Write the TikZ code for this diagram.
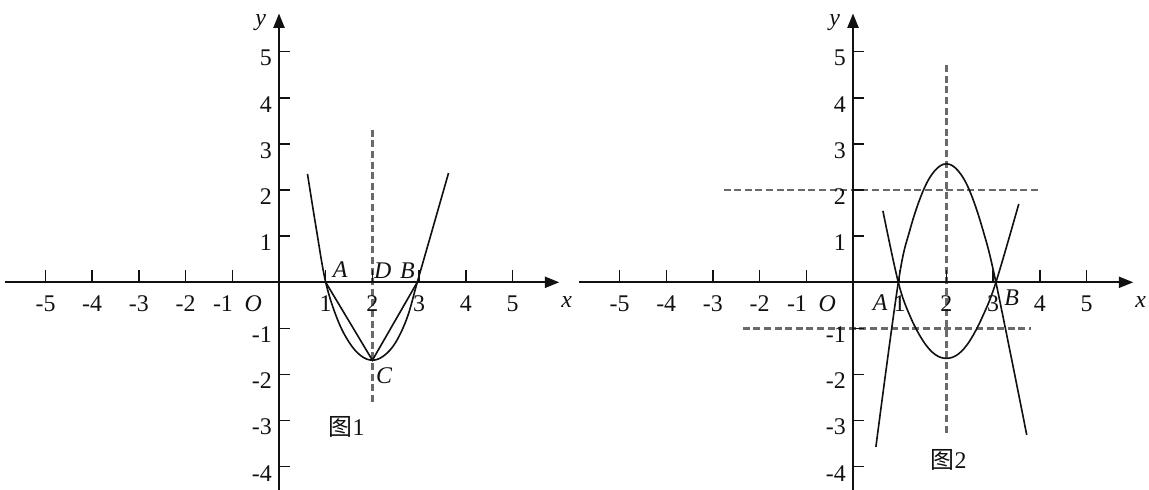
\documentclass[tikz,border=0pt]{standalone}
\usepackage{fontspec}
\setmainfont{Liberation Serif}
\newfontfamily\cjkfont{Noto Sans CJK SC}
\usetikzlibrary{arrows.meta}
\definecolor{axiscol}{HTML}{111111}
\definecolor{guidecol}{HTML}{6A6A6A}
\tikzset{
    axisarrow/.style={-{Triangle[length=3.6mm, width=2.8mm]}, axiscol, line width=1.2pt},
    tickmark/.style={axiscol, line width=1.0pt},
    graphline/.style={axiscol, line width=1.15pt},
    guideline/.style={guidecol, line width=1.7pt, dash pattern=on 1.75mm off 0.9mm},
    numlabel/.style={font=\fontsize{17}{19}\selectfont, inner sep=0pt, text=axiscol},
    ptlabel/.style={font=\fontsize{17}{19}\selectfont\itshape, inner sep=0pt, text=axiscol},
    figlabel/.style={font=\fontsize{17}{19}\selectfont, inner sep=0pt, text=axiscol},
    graphframe/.style={x=1.1675cm, y=1.1525cm},
    pics/axesframe/.style={code={
        \coordinate (-origin) at (0,0);
        \draw[axisarrow] (-5.86,0) coordinate (-xstart) -- (6.0,0) coordinate (-xend);
        \draw[axisarrow] (0,-4.5) coordinate (-ystart) -- (0,5.83) coordinate (-yend);
        \foreach \k in {-5,...,-1,1,2,...,5} {
            \draw[tickmark] (\k,0) -- (\k,0.26);
            \node[numlabel] (-xt\k) at ({\k-0.2*(\k==-1)},-0.46) {\k};
        }
        \foreach \k in {-4,...,-1,1,2,...,5} {
            \draw[tickmark] (0,\k) -- (0.24,\k);
            \node[numlabel, anchor=east] (-yt\k) at (-0.15,\k-0.14) {\k};
        }
        \node[ptlabel] (-olabel) at (-0.55,-0.46) {O};
        \node[ptlabel] (-xlabel) at (6.16,-0.42) {x};
        \node[ptlabel] (-ylabel) at (-0.39,5.63) {y};
    }},
}

\begin{document}
\begin{tikzpicture}
\useasboundingbox (0,0) rectangle (28.725,-12.25);
\begin{scope}[shift={(6.975cm,-7.0575cm)}, graphframe]
\draw[guideline] (2,3.31) -- (2,-2.62);
\pic (g1) {axesframe};
\coordinate (A1) at (1,0);
\coordinate (B1) at (2.96,0);
\coordinate (C1) at (2,-1.69);
\draw[graphline] plot[smooth, tension=0.6] coordinates {(0.61,2.35) (0.8,1.15) (1,0) (1.25,-0.8) (1.5,-1.3) (1.75,-1.59) (2,-1.69) (2.25,-1.59) (2.5,-1.3) (2.75,-0.75) (2.96,0) (3.3,1.2) (3.63,2.37)};
\draw[graphline] (A1) -- (C1) -- (B1);
\node[ptlabel] (labA1) at (1.31,0.27) {A};
\node[ptlabel] (labD1) at (2.22,0.25) {D};
\node[ptlabel] (labB1) at (2.75,0.25) {B};
\node[ptlabel] (labC1) at (2.25,-2.03) {C};
\node[figlabel] (fig1) at (1.45,-3.13) {{\cjkfont 图}1};
\end{scope}
\begin{scope}[shift={(21.325cm,-7.0575cm)}, graphframe]
\draw[guideline] (2,4.71) -- (2,-3.27);
\draw[guideline] (-2.77,2) -- (4.02,2);
\draw[guideline] (-2.36,-1) -- (3.82,-1);
\pic (g2) {axesframe};
\draw[graphline] plot[smooth, tension=0.6] coordinates {(0.49,-3.57) (0.97,0) (1.22,1.14) (1.5,1.98) (1.75,2.42) (2,2.57) (2.25,2.42) (2.5,1.98) (2.78,1.14) (3.06,0) (3.72,-3.31)};
\draw[graphline] plot[smooth, tension=0.6] coordinates {(0.64,1.55) (0.97,0) (1.22,-0.73) (1.5,-1.27) (1.75,-1.56) (2,-1.65) (2.25,-1.56) (2.5,-1.27) (2.78,-0.73) (3.06,0) (3.55,1.70)};
\node[ptlabel] (labA2) at (0.58,-0.45) {A};
\node[ptlabel] (labB2) at (3.4,-0.34) {B};
\node[figlabel] (fig2) at (2.05,-3.85) {{\cjkfont 图}2};
\end{scope}
\end{tikzpicture}
\end{document}
